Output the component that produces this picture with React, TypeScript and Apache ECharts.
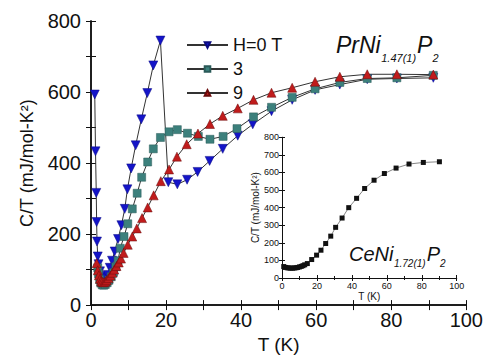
import React, { useEffect, useRef } from "react";
import * as echarts from "echarts";

// H = 0 T (blue, down triangles)
const t0 = [1.0, 1.2, 1.4, 1.5, 1.6, 1.8, 2.0, 2.4, 2.8, 3.2, 3.6, 4.0, 4.5, 5.0, 5.6, 6.3, 7.2, 8.1, 9.0, 9.7, 10.7, 11.9, 13.4, 15.0, 16.6, 18.5, 20.6, 23.0, 25.6, 28.4, 31.6, 35.1, 39.1, 43.1, 48.1, 53.6, 59.7, 66.3, 73.6, 81.5, 91.2];
const c0 = [593, 433, 316, 234, 179, 137, 115, 95, 82, 74, 72, 75, 85, 105, 125, 151, 186, 225, 271, 326, 385, 450, 523, 597, 675, 745, 346, 340, 353, 375, 406, 440, 477, 509, 546, 578, 606, 621, 636, 638, 640];

// H = 3 T (teal squares)
const t3 = [1.8, 2.0, 2.3, 2.6, 3.0, 3.4, 3.8, 4.3, 4.8, 5.4, 6.0, 6.6, 7.2, 7.8, 8.8, 9.8, 11.0, 12.3, 13.5, 15.1, 16.6, 18.5, 20.8, 23.0, 25.7, 28.6, 31.7, 35.2, 38.9, 43.3, 48.1, 53.6, 59.7, 66.3, 73.6, 81.5, 91.2];
const c3 = [105, 88, 72, 62, 57, 56, 58, 63, 70, 80, 92, 108, 125, 160, 193, 229, 271, 315, 360, 403, 440, 472, 488, 494, 484, 475, 467, 475, 497, 530, 557, 585, 609, 627, 638, 640, 647];

// H = 9 T (red up triangles)
const t9 = [1.5, 1.8, 2.1, 2.4, 2.7, 3.0, 3.4, 3.8, 4.2, 4.7, 5.2, 5.7, 6.2, 6.8, 7.4, 8.0, 8.7, 9.8, 11.0, 12.2, 13.6, 15.1, 16.7, 18.6, 20.8, 22.9, 25.5, 28.5, 31.7, 35.1, 39.1, 43.3, 48.1, 53.6, 59.7, 66.3, 73.6, 81.5, 91.2];
const c9 = [118, 98, 84, 74, 68, 65, 64, 66, 70, 76, 83, 91, 100, 110, 120, 131, 147, 170, 193, 216, 245, 275, 309, 349, 382, 418, 453, 483, 510, 533, 554, 578, 598, 612, 629, 643, 650, 650, 649];

// Inset: CeNi1.72(1)P2
const tCe = [1.0, 2.0, 3.0, 4.0, 5.0, 6.0, 7.0, 8.0, 9.0, 10.0, 11.0, 12.0, 13.0, 14.5, 17.0, 19.8, 22.3, 25.0, 27.9, 30.7, 34.4, 38.2, 42.7, 47.3, 52.7, 58.6, 65.3, 72.7, 80.9, 90.1];
const cCe = [65, 60, 58, 57, 56, 56, 57, 58, 60, 63, 66, 70, 75, 82, 105, 130, 158, 196, 238, 288, 341, 400, 453, 509, 556, 594, 625, 648, 657, 661];

const seriesNames = ["H=0 T", "3", "9"];

const FONT = "Liberation Sans, Arial, sans-serif";

const zip = (xs: number[], ys: number[]) => xs.map((x, i) => [x, ys[i]]);

function measure(text: string, size: number): number {
  const c = document.createElement("canvas").getContext("2d");
  if (!c) return text.length * size * 0.55;
  c.font = `italic ${size}px "Liberation Sans", Arial, sans-serif`;
  return c.measureText(text).width;
}

function formula(x: number, yMain: number, ySub: number, big: number, small: number, name: string, sub: string) {
  const t = (tx: number, ty: number, text: string, size: number) => ({
    type: "text",
    z: 10,
    style: { x: tx, y: ty, text, fontSize: size, fontStyle: "italic", fontFamily: FONT, fill: "#111", verticalAlign: "middle" },
  });
  const w1 = measure(name, big);
  const w2 = measure(sub, small);
  const w3 = measure("P", big);
  return [
    t(x, yMain, name, big),
    t(x + w1 + 0.5, ySub, sub, small),
    t(x + w1 + w2 + 1.5, yMain, "P", big),
    t(x + w1 + w2 + w3 + 1.5, ySub, "2", small),
  ];
}

export default function App() {
  const ref = useRef<HTMLDivElement>(null);
  useEffect(() => {
    if (!ref.current) return;
    const chart = echarts.init(ref.current, undefined, { renderer: "svg" });
    const axisLine = { show: true, lineStyle: { color: "#111", width: 1.5 } };
    const tick = { show: true, inside: true, length: 5, lineStyle: { color: "#111", width: 1 } };
    const mainGrid = { left: 91, top: 21, width: 379, height: 290.6 };
    const inset = { left: 282, top: 137.3, width: 174.7, height: 140.7 };
    const insetLine = { show: true, lineStyle: { color: "#111", width: 1 } };
    const insetTick = { show: true, inside: true, length: 3, lineStyle: { color: "#111" } };
    const insetLabel = { fontSize: 9, color: "#111", margin: 3, fontFamily: FONT, showMaxLabel: true, showMinLabel: true, hideOverlap: false };
    const option: any = {
      animation: false,
      backgroundColor: "#fff",
      textStyle: { fontFamily: FONT },
      grid: [
        { ...mainGrid, show: false },
        { ...inset, show: true, backgroundColor: "#fff", borderWidth: 0 },
      ],
      legend: {
        left: 181,
        top: 31,
        orient: "vertical",
        itemWidth: 41,
        itemHeight: 7,
        itemGap: 6,
        data: seriesNames,
        textStyle: { fontSize: 18, color: "#111", fontFamily: FONT, lineHeight: 18 },
      },
      xAxis: [
        {
          gridIndex: 0, type: "value", min: 0, max: 100, interval: 10, position: "bottom",
          axisLine, axisTick: tick, splitLine: { show: false },
          axisLabel: { formatter: (v: number) => (v % 20 === 0 ? String(v) : ""), fontSize: 20, color: "#111", margin: 5, fontFamily: FONT },
          name: "T (K)", nameLocation: "middle", nameGap: 27,
          nameTextStyle: { fontSize: 19, color: "#111", fontFamily: FONT },
        },
        {
          gridIndex: 0, type: "value", min: 0, max: 100, interval: 10, position: "top",
          axisLine, axisTick: tick, axisLabel: { show: false }, splitLine: { show: false },
        },
        {
          gridIndex: 1, type: "value", min: 0, max: 100, interval: 20, position: "bottom", z: 5,
          axisLine: insetLine, axisTick: insetTick,
          minorTick: { show: true, splitNumber: 2, length: 2, lineStyle: { color: "#111" } },
          splitLine: { show: false },
          axisLabel: insetLabel,
          name: "T (K)", nameLocation: "middle", nameGap: 13,
          nameTextStyle: { fontSize: 10, color: "#111", fontFamily: FONT },
        },
        {
          gridIndex: 1, type: "value", min: 0, max: 100, interval: 20, position: "top", z: 5,
          axisLine: insetLine, axisTick: insetTick,
          minorTick: { show: true, splitNumber: 2, length: 2, lineStyle: { color: "#111" } },
          axisLabel: { show: false }, splitLine: { show: false },
        },
      ],
      yAxis: [
        {
          gridIndex: 0, type: "value", min: 0, max: 800, interval: 100, position: "left",
          axisLine, axisTick: tick, splitLine: { show: false },
          axisLabel: { formatter: (v: number) => (v % 200 === 0 ? String(v) : ""), fontSize: 20, color: "#111", margin: 10, fontFamily: FONT },
          name: "C/T (mJ/mol-K²)", nameLocation: "middle", nameGap: 55,
          nameTextStyle: { fontSize: 18, color: "#111", fontFamily: FONT },
        },
        {
          gridIndex: 0, type: "value", min: 0, max: 800, interval: 100, position: "right",
          axisLine, axisTick: tick, axisLabel: { show: false }, splitLine: { show: false },
        },
        {
          gridIndex: 1, type: "value", min: 0, max: 800, interval: 100, position: "left", z: 5,
          axisLine: insetLine, axisTick: insetTick, splitLine: { show: false },
          axisLabel: insetLabel,
          name: "C/T (mJ/mol-K²)", nameLocation: "middle", nameGap: 22,
          nameTextStyle: { fontSize: 10, color: "#111", fontFamily: FONT },
        },
        {
          gridIndex: 1, type: "value", min: 0, max: 800, interval: 100, position: "right", z: 5,
          axisLine: insetLine, axisTick: insetTick, axisLabel: { show: false }, splitLine: { show: false },
        },
      ],
      series: [
        {
          name: seriesNames[0], type: "line", xAxisIndex: 0, yAxisIndex: 0,
          data: zip(t0, c0), symbol: "triangle", symbolRotate: 180, symbolSize: 9,
          itemStyle: { color: "#1414c8", borderColor: "#0a0a80", borderWidth: 0.5 },
          lineStyle: { color: "#333", width: 1 }, z: 2,
        },
        {
          name: seriesNames[1], type: "line", xAxisIndex: 0, yAxisIndex: 0,
          data: zip(t3, c3), symbol: "rect", symbolSize: 8,
          itemStyle: { color: "#3c807c", borderColor: "#2a5a58", borderWidth: 0.5 },
          lineStyle: { color: "#333", width: 1 }, z: 2,
        },
        {
          name: seriesNames[2], type: "line", xAxisIndex: 0, yAxisIndex: 0,
          data: zip(t9, c9), symbol: "triangle", symbolSize: 9,
          itemStyle: { color: "#c01c1c", borderColor: "#6a0a0a", borderWidth: 0.5 },
          lineStyle: { color: "#333", width: 1 }, z: 2,
        },
        {
          name: "CeNi", type: "line", xAxisIndex: 2, yAxisIndex: 2,
          data: zip(tCe, cCe), symbol: "rect", symbolSize: 5,
          itemStyle: { color: "#111" },
          lineStyle: { color: "#666", width: 0.8 }, z: 4,
        },
      ],
      graphic: [
        ...formula(336, 45, 58, 23, 11, "PrNi", "1.47(1)"),
        ...formula(349, 254, 263, 20, 10, "CeNi", "1.72(1)"),
      ],
    };
    chart.setOption(option);
    return () => chart.dispose();
  }, []);
  return <div ref={ref} style={{ position: "absolute", left: 0, top: 0, width: 486, height: 359 }} />;
}
